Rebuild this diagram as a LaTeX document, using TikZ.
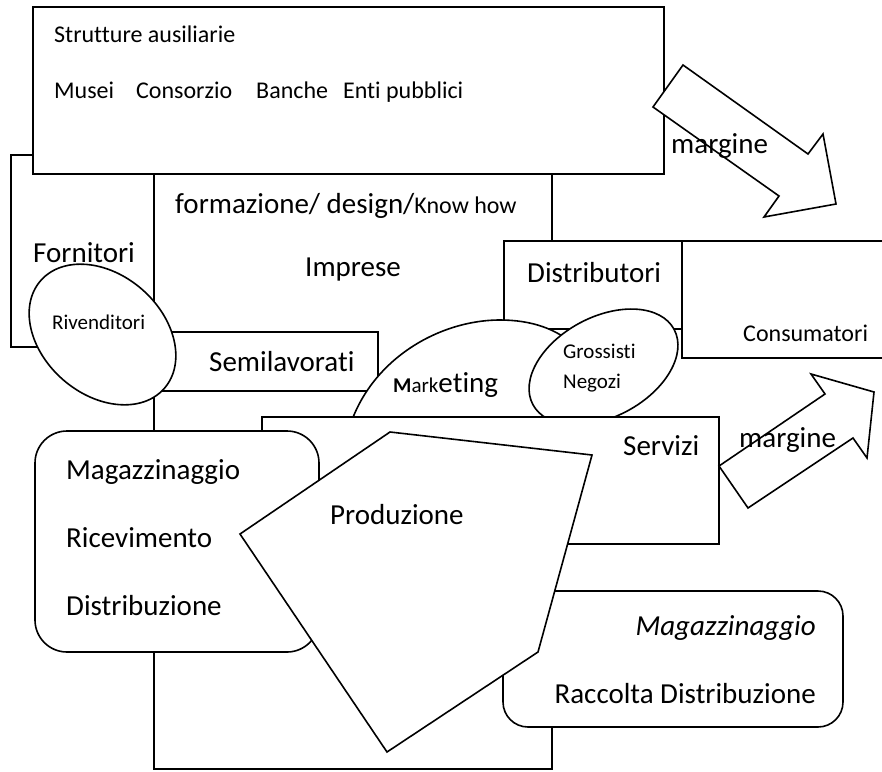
\documentclass[tikz,border=0pt]{standalone}
\usepackage{fontspec}
\setmainfont{Carlito}[Ligatures=CommonOff]
\usetikzlibrary{shapes.geometric}
\begin{document}
\begin{tikzpicture}[x=1pt,y=-1pt,
  shp/.style={draw=black, fill=white, line width=1.6pt, line join=miter},
  big/.style={font=\fontsize{29}{34}\selectfont, inner sep=0pt, anchor=base west},
  mid/.style={font=\fontsize{24}{29}\selectfont, inner sep=0pt, anchor=base west},
  small/.style={font=\fontsize{21}{25}\selectfont, inner sep=0pt, anchor=base west}]
\useasboundingbox (0,0) rectangle (882,771);
\clip (0,0) rectangle (882,771);
% Fornitori box
\path[shp] (11,155) rectangle (300,347);
% Imprese box
\path[shp] (154,100) rectangle (552,769);
% Strutture ausiliarie box
\path[shp] (33,7) rectangle (664,174);
% top margin arrow
\path[shp] (683,65) -- (808,154) -- (823,134) -- (836,204) -- (764,217) -- (779,196) -- (653,107) -- cycle;
% Distributori and Consumatori
\path[shp] (504,241) rectangle (682,329);
\path[shp] (682,241) rectangle (900,358);
% Semilavorati
\path[shp] (160,332) rectangle (378,391);
% Rivenditori ellipse
\path[shp, rotate around={-41:(102.5,334.5)}] (102.5,334.5) ellipse [x radius=82, y radius=60];
% Marketing shape
\path[shp] (345,445) .. controls (360,365) and (435,320) .. (500,320)
  .. controls (562,320) and (606,355) .. (604,430) -- cycle;
% Grossisti ellipse
\path[shp, rotate around={28:(603.5,367)}] (603.5,367) ellipse [x radius=80, y radius=50];
% Servizi
\path[shp] (262,417) rectangle (719,544);
% left rounded box
\path[shp, rounded corners=32pt] (35,431) rectangle (319,652);
% right rounded box
\path[shp, rounded corners=25pt] (503,591) rectangle (843,727);
% Produzione pentagon
\path[shp] (390,432) -- (592,455) -- (538,652) -- (387,752) -- (240,534) -- cycle;
% bottom margin arrow
\path[shp] (719,466) -- (825,394) -- (811,374) -- (874,392) -- (867,458) -- (853,438) -- (748,508) -- cycle;

% texts
\node[mid] (strutt) at (54,42) {Strutture ausiliarie};
\node[mid] (enti) at (54,98) {Musei\hspace{22pt}Consorzio\hspace{24pt}Banche\hspace{15pt}Enti pubblici};
\node[big] (form) at (175,213) {formazione/ design/{\fontsize{24}{29}\selectfont Know how}};
\node[big] (impr) at (305,276) {Imprese};
\node[big] (forn) at (33,262) {Fornitori};
\node[small] (riv) at (52,329) {Rivenditori};
\node[big] (semi) at (209,371) {Semilavorati};
\node[big] (distr) at (527,282) {Distributori};
\node[mid] (cons) at (743,341) {Consumatori};
\node[big] (mkt) at (393,392) {{\fontsize{21}{25}\selectfont\textbf{M}ark}eting};
\node[small] (gross) at (563,358) {Grossisti};
\node[small] (neg) at (563,388) {Negozi};
\node[big] (serv) at (623,455) {Servizi};
\node[big] (marg1) at (671,153) {margine};
\node[big] (marg2) at (739,447) {margine};
\node[big] (mag1) at (66,479) {Magazzinaggio};
\node[big] (ricev) at (66,547) {Ricevimento};
\node[big] (distrib) at (66,615) {Distribuzione};
\node[big] (prod) at (330,524) {Produzione};
\node[big, anchor=base east] (mag2) at (816,635) {\itshape Magazzinaggio};
\node[big, anchor=base east] (racc) at (816,703) {Raccolta Distribuzione};
\end{tikzpicture}
\end{document}
